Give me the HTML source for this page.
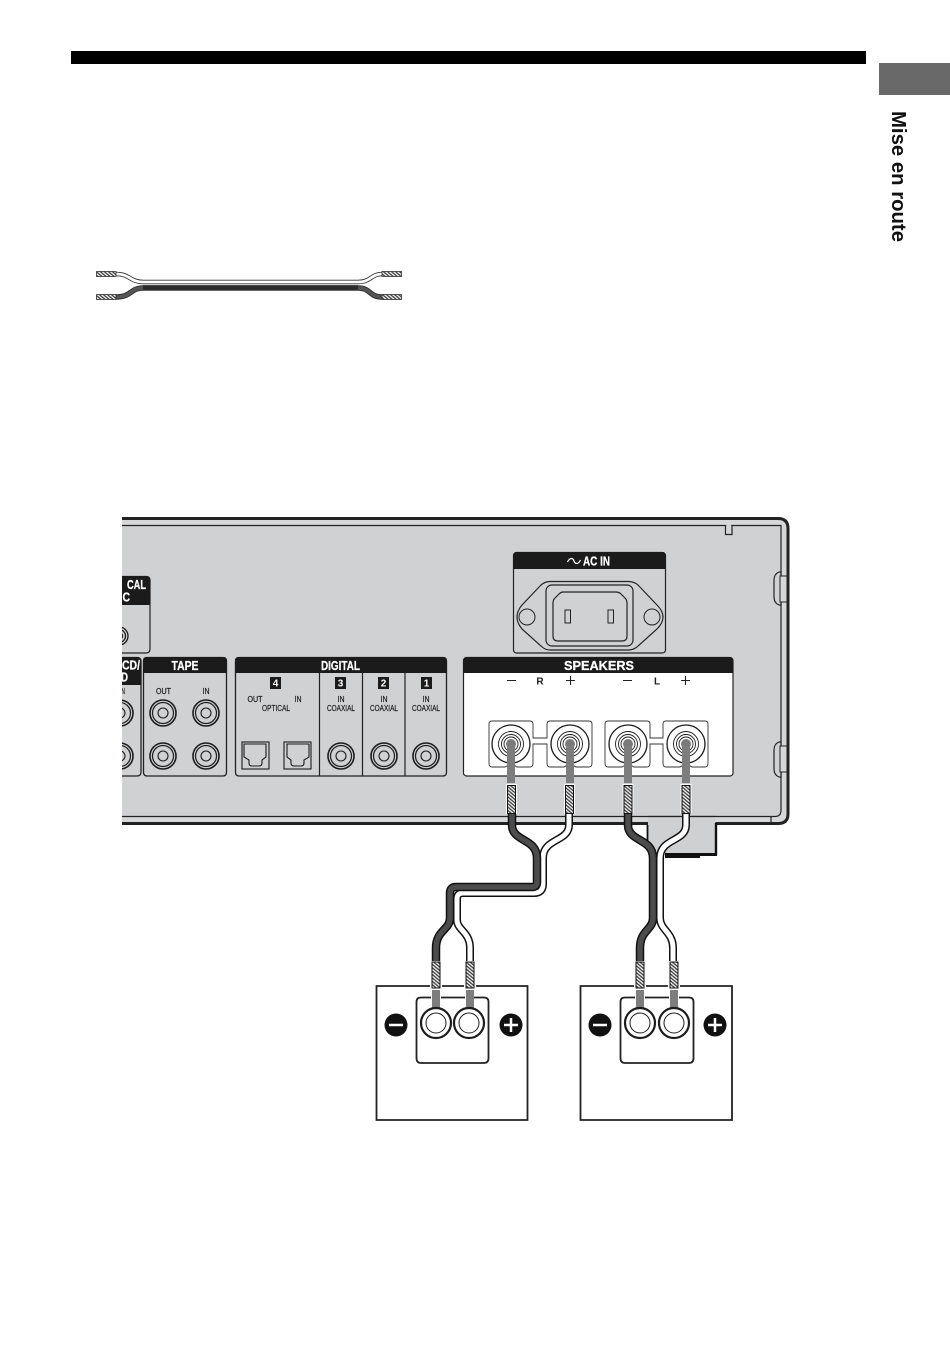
<!DOCTYPE html>
<html><head><meta charset="utf-8"><style>
html,body{margin:0;padding:0;background:#fff}
svg{display:block}
text{font-family:"Liberation Sans",sans-serif}
.h{font-weight:bold;font-size:12.5px;fill:#fff;stroke:#fff;stroke-width:.25}
.s{font-size:8.5px;fill:#1a1a1a;stroke:#1a1a1a;stroke-width:.2}
</style></head><body>
<svg width="950" height="1346" viewBox="0 0 950 1346" xmlns="http://www.w3.org/2000/svg">
<defs>
<pattern id="hatch" width="2.6" height="2.6" patternUnits="userSpaceOnUse" patternTransform="rotate(40)">
<rect width="2.6" height="2.6" fill="#eee"/><rect width="2.6" height="1.3" fill="#444"/>
</pattern>
<g id="jack" fill="none" stroke="#1c1c1c">
<circle r="13" stroke-width="1.6"/><circle r="10.500" stroke-width="1.200"/><circle r="5" stroke-width="1.100"/>
</g>
<g id="term" fill="none" stroke="#1c1c1c">
<circle r="19" stroke-width="1.300" fill="#fff"/><circle r="12.500" stroke-width=".9"/><circle r="9.500" stroke-width=".9"/><circle r="7" stroke-width=".9"/>
<circle r="5" fill="#7a7a7a" stroke="none"/>
</g>
<g id="spk" fill="none" stroke="#1c1c1c">
<circle r="15" fill="#fff" stroke-width="2.200"/><circle r="10" stroke-width="1"/>
</g>
<clipPath id="ch"><rect x="122" y="500" width="700" height="340"/></clipPath>
</defs>

<rect width="950" height="1346" fill="#fff"/>
<rect x="71" y="51" width="795" height="13" fill="#000"/>
<rect x="879" y="63" width="71" height="32" fill="#696969"/>
<text x="0" y="0" transform="translate(892,111) rotate(90)" font-size="20" font-weight="bold" fill="#111" textLength="131" lengthAdjust="spacingAndGlyphs">Mise en route</text>

<!-- small cable -->
<g fill="none">
<path d="M116 274C130 274 130 282 143 282H358C371 282 371 274 382 274" stroke="#333" stroke-width="4.500"/>
<path d="M116 274C130 274 130 282 143 282H358C371 282 371 274 382 274" stroke="#fff" stroke-width="2.800"/>
<path d="M116 297C132 297 130 288 143 288H358C371 288 369 297 382 297" stroke="#333" stroke-width="5.500"/>
<path d="M116 297C132 297 130 288 143 288H358C371 288 369 297 382 297" stroke="#555" stroke-width="3.500"/>
<path d="M143 287.500H358" stroke="#2a2a2a" stroke-width="4.500"/>
</g>
<g fill="url(#hatch)" stroke="#333" stroke-width=".8">
<rect x="96.500" y="271.500" width="19.500" height="5"/><rect x="96.500" y="294.500" width="19.500" height="5"/>
<rect x="382" y="271.500" width="19.500" height="5"/><rect x="382" y="294.500" width="19.500" height="5"/>
</g>

<!-- chassis -->
<g clip-path="url(#ch)">
<path d="M100 518.500H778Q788 518.500 788 528.500V814Q788 823.500 778 823.500H100Z" fill="#d6d7d8" stroke="#222" stroke-width="3"/>
<path d="M100 525.500H781V810Q781 816.500 775 816.500H100Z" fill="#d0d1d2" stroke="#222" stroke-width="1.200"/>
<path d="M771 816.500V823" stroke="#222" stroke-width="1.200"/>
<path d="M725.500 525.500V534.500H732V525.500" fill="#d6d7d8" stroke="#222" stroke-width="1.200"/>
<rect x="726.500" y="524" width="4.500" height="2" fill="#d6d7d8"/>
<!-- side notches -->
<path d="M781 572H779Q774 574 774 580V597Q774 603 779 605H781Z" fill="#d0d1d2" stroke="#222" stroke-width="1.200"/>
<rect x="780" y="576" width="7" height="26" fill="#d6d7d8" stroke="#222" stroke-width="1"/>
<path d="M781 742H779Q774 744 774 750V769Q774 775 779 777H781Z" fill="#d0d1d2" stroke="#222" stroke-width="1.200"/>
<rect x="780" y="746" width="7" height="26" fill="#d6d7d8" stroke="#222" stroke-width="1"/>
<path d="M788 528V814" stroke="#222" stroke-width="3" fill="none"/>

<!-- CAL box -->
<path d="M90 576.500H146Q150 576.500 150 580.500V649Q150 653 146 653H90Z" fill="#d0d1d2" stroke="#222" stroke-width="1.200"/>
<path d="M90 576H146Q150.500 576 150.500 580.500V605H90Z" fill="#1b1b1b"/>
<text class="h" x="127" y="589" textLength="19" lengthAdjust="spacingAndGlyphs">CAL</text>
<text class="h" x="122.500" y="601.500" textLength="7.500" lengthAdjust="spacingAndGlyphs">C</text>
<g fill="none" stroke="#1c1c1c" stroke-width="1.300"><circle cx="119" cy="636" r="9"/><circle cx="119" cy="636" r="6.500"/><circle cx="119" cy="636" r="3.500"/></g>

<!-- CD box -->
<path d="M90 657.500H137Q141 657.500 141 661.500V772Q141 776 137 776H90Z" fill="#d0d1d2" stroke="#222" stroke-width="1.300"/>
<path d="M90 657H137Q141.500 657 141.500 661.500V685H90Z" fill="#1b1b1b"/>
<text class="h" x="122" y="669.500" textLength="18" lengthAdjust="spacingAndGlyphs">CD/</text>
<text class="h" x="121" y="681.500" textLength="7" lengthAdjust="spacingAndGlyphs">D</text>
<text class="s" x="120" y="694" textLength="5" lengthAdjust="spacingAndGlyphs">IN</text>
<use href="#jack" x="120" y="713"/><use href="#jack" x="120" y="756"/>

<!-- TAPE -->
<path d="M143.500 661Q143.500 657.500 147 657.500H223Q226.500 657.500 226.500 661V772Q226.500 776 223 776H147Q143.500 776 143.500 772Z" fill="#d0d1d2" stroke="#222" stroke-width="1.300"/>
<path d="M143 661Q143 657 147 657H223Q227 657 227 661V673H143Z" fill="#1b1b1b"/>
<text class="h" x="185" y="670" text-anchor="middle" textLength="27" lengthAdjust="spacingAndGlyphs">TAPE</text>
<text class="s" x="163.500" y="694" text-anchor="middle" textLength="15" lengthAdjust="spacingAndGlyphs">OUT</text>
<text class="s" x="206" y="694" text-anchor="middle" textLength="7" lengthAdjust="spacingAndGlyphs">IN</text>
<use href="#jack" x="163" y="713"/><use href="#jack" x="206" y="713"/>
<use href="#jack" x="163" y="756"/><use href="#jack" x="206" y="756"/>

<!-- DIGITAL -->
<path d="M235.500 661Q235.500 657.500 239 657.500H443Q446.500 657.500 446.500 661V772Q446.500 776 443 776H239Q235.500 776 235.500 772Z" fill="#d0d1d2" stroke="#222" stroke-width="1.300"/>
<path d="M235 661Q235 657 239 657H443Q447 657 447 661V673H235Z" fill="#1b1b1b"/>
<path d="M319.500 673V776M362.500 673V776M405 673V776" stroke="#222" stroke-width="1.200"/>
<text class="h" x="340.500" y="670" text-anchor="middle" textLength="39" lengthAdjust="spacingAndGlyphs">DIGITAL</text>
<g fill="#1b1b1b"><rect x="270" y="677" width="11" height="12"/><rect x="335" y="677" width="11" height="12"/><rect x="378" y="677" width="11" height="12"/><rect x="421" y="677" width="11" height="12"/></g>
<g font-size="10" font-weight="bold" fill="#fff" text-anchor="middle"><text x="275.500" y="686.500">4</text><text x="340.500" y="686.500">3</text><text x="383.500" y="686.500">2</text><text x="426.500" y="686.500">1</text></g>
<text class="s" x="255" y="702" text-anchor="middle" textLength="15" lengthAdjust="spacingAndGlyphs">OUT</text>
<text class="s" x="298" y="702" text-anchor="middle" textLength="7" lengthAdjust="spacingAndGlyphs">IN</text>
<text class="s" x="276" y="711" text-anchor="middle" textLength="28" lengthAdjust="spacingAndGlyphs">OPTICAL</text>
<g text-anchor="middle">
<text class="s" x="341" y="702" textLength="7" lengthAdjust="spacingAndGlyphs">IN</text><text class="s" x="341" y="711" textLength="28" lengthAdjust="spacingAndGlyphs">COAXIAL</text>
<text class="s" x="384" y="702" textLength="7" lengthAdjust="spacingAndGlyphs">IN</text><text class="s" x="384" y="711" textLength="28" lengthAdjust="spacingAndGlyphs">COAXIAL</text>
<text class="s" x="426" y="702" textLength="7" lengthAdjust="spacingAndGlyphs">IN</text><text class="s" x="426" y="711" textLength="28" lengthAdjust="spacingAndGlyphs">COAXIAL</text>
</g>
<g fill="none" stroke="#1c1c1c" stroke-width="1.100">
<rect x="242" y="742" width="27" height="27"/>
<path d="M244 744H266V757L262 760V763Q262 766 259 766H252Q249 766 249 763V760L244 757Z"/>
<rect x="284" y="742" width="27" height="27"/>
<path d="M287 744H309V757L304 760V763Q304 766 301 766H294Q291 766 291 763V760L287 757Z"/>
</g>
<use href="#jack" x="341" y="756"/><use href="#jack" x="384" y="756"/><use href="#jack" x="426" y="756"/>

<!-- AC IN -->
<rect x="513.500" y="552.500" width="152" height="100.500" rx="3" fill="#d0d1d2" stroke="#222" stroke-width="1.200"/>
<path d="M513 556Q513 552 517 552H662Q666 552 666 556V569H513Z" fill="#1b1b1b"/>
<text class="h" x="583" y="565.500" textLength="27" lengthAdjust="spacingAndGlyphs">AC IN</text>
<path d="M567.500 562C570 557 573 558 574 561C575 564 578 565 580.500 560" fill="none" stroke="#fff" stroke-width="1.200"/>
<path d="M550 581.500H628Q634 581.500 638 585L657 605Q663 611 663 617Q663 623 657 629L638 646Q634 650 628 650H550Q545 650 541 646L522 629Q517 623 517 617Q517 611 522 605L541 585Q545 581.500 550 581.500Z" fill="#d0d1d2" stroke="#222" stroke-width="1.200"/>
<rect x="546" y="585" width="87" height="61" rx="6" fill="#d0d1d2" stroke="#222" stroke-width="1.200"/>
<path d="M563 592H616Q619 592 621 594L625 598Q627 600 627 603V636Q627 641 622 641H558Q553 641 553 636V603Q553 600 555 598L559 594Q561 592 563 592Z" fill="#d0d1d2" stroke="#222" stroke-width="1.200"/>
<rect x="565" y="610" width="5.500" height="13" fill="none" stroke="#222"/>
<rect x="608" y="610" width="5.500" height="13" fill="none" stroke="#222"/>
<circle cx="527" cy="617" r="8" fill="#d0d1d2" stroke="#222"/>
<circle cx="652" cy="617" r="8" fill="#d0d1d2" stroke="#222"/>

<!-- SPEAKERS -->
<rect x="463.500" y="657.500" width="269.500" height="118.500" rx="3" fill="#fff" stroke="#222" stroke-width="1.200"/>
<path d="M463 661Q463 657 467 657H729Q733 657 733 661V673H463Z" fill="#1b1b1b"/>
<text x="564" y="670" font-size="13" font-weight="bold" fill="#fff" stroke="#fff" stroke-width=".25" textLength="70" lengthAdjust="spacingAndGlyphs">SPEAKERS</text>
<path d="M507 680.500H516M566 680.500H575M570.500 676V685M623 680.500H632M681 680.500H690M685.500 676V685" stroke="#222" stroke-width="1.100" fill="none"/>
<text x="540" y="684.500" font-size="10" font-weight="bold" text-anchor="middle" fill="#222">R</text>
<text x="657" y="684.500" font-size="10" font-weight="bold" text-anchor="middle" fill="#222">L</text>
<g fill="none" stroke="#333" stroke-width=".9">
<path d="M489 724Q489 721 492 721H530Q533 721 533 724V738H547V724Q547 721 550 721H589Q592 721 592 724V763Q592 767 589 767H576Q570 763 564 767H550Q547 767 547 763V744H533V763Q533 767 530 767H517Q511 763 505 767H492Q489 767 489 763Z"/>
<path d="M605 724Q605 721 608 721H647Q650 721 650 724V738H663V724Q663 721 666 721H705Q708 721 708 724V763Q708 767 705 767H692Q686 763 680 767H666Q663 767 663 763V744H650V763Q650 767 647 767H634Q628 763 622 767H608Q605 767 605 763Z"/>
</g>
<use href="#term" x="511" y="744"/><use href="#term" x="570" y="744"/><use href="#term" x="628" y="744"/><use href="#term" x="686" y="744"/>
</g>

<!-- tab -->
<rect x="648" y="816" width="67.500" height="37" fill="#cfd0d1"/>
<path d="M648 816.500H715.500" stroke="#222" stroke-width="1.200"/>
<path d="M647.500 825V843" stroke="#111" stroke-width="1.800"/>
<path d="M716 823V855" stroke="#111" stroke-width="2.400"/>
<path d="M665 853H717V856H700V858H665Z" fill="#111"/>

<!-- gray stubs -->
<g fill="#7d7d7d">
<rect x="507" y="746" width="8" height="37"/><rect x="566" y="746" width="8" height="37"/>
<rect x="624" y="746" width="8" height="37"/><rect x="682" y="746" width="8" height="37"/>
<rect x="432" y="990" width="8" height="19"/><rect x="466" y="990" width="8" height="19"/>
<rect x="636" y="990" width="8" height="19"/><rect x="670" y="990" width="8" height="19"/>
</g>

<!-- wires -->
<g fill="none" stroke-linejoin="round">
<path d="M569 813V825C569 842 543 838 543 858V884Q543 893 534 893H463Q457 893 457 899V920C457 930 470 932 470 948V962" stroke="#111" stroke-width="8"/>
<path d="M569 813V825C569 842 543 838 543 858V884Q543 893 534 893H463Q457 893 457 899V920C457 930 470 932 470 948V962" stroke="#fff" stroke-width="5"/>
<path d="M512 813V825C512 842 537 838 537 858V882Q537 887 532 887H456Q450 887 450 893V918C450 930 436 930 436 948V962" stroke="#111" stroke-width="8.500"/>
<path d="M512 813V825C512 842 537 838 537 858V882Q537 887 532 887H456Q450 887 450 893V918C450 930 436 930 436 948V962" stroke="#4c4c4c" stroke-width="5.500"/>
<path d="M686 813V825C686 842 660 838 660 858V918C660 930 673 932 673 948V962" stroke="#111" stroke-width="8"/>
<path d="M686 813V825C686 842 660 838 660 858V918C660 930 673 932 673 948V962" stroke="#fff" stroke-width="5"/>
<path d="M628 813V825C628 842 653 838 653 858V918C653 930 640 930 640 948V962" stroke="#111" stroke-width="8.500"/>
<path d="M628 813V825C628 842 653 838 653 858V918C653 930 640 930 640 948V962" stroke="#4c4c4c" stroke-width="5.500"/>
</g>
<!-- stripped ends -->
<g fill="#fff">
<rect x="506" y="784" width="11" height="30"/><rect x="564" y="784" width="11" height="30"/>
<rect x="622.500" y="784" width="11" height="30"/><rect x="680.500" y="784" width="11" height="30"/>
<rect x="430.500" y="961" width="11" height="28"/><rect x="464.500" y="961" width="11" height="28"/>
<rect x="634.500" y="961" width="11" height="28"/><rect x="668.500" y="961" width="11" height="28"/>
</g>
<g fill="url(#hatch)" stroke="#111" stroke-width="1">
<rect x="507.500" y="785.500" width="8" height="28"/><rect x="565.500" y="785.500" width="8" height="28"/>
<rect x="624" y="785.500" width="8" height="28"/><rect x="682" y="785.500" width="8" height="28"/>
<rect x="432" y="962" width="8" height="26"/><rect x="466" y="962" width="8" height="26"/>
<rect x="636" y="962" width="8" height="26"/><rect x="670" y="962" width="8" height="26"/>
</g>

<!-- speakers -->
<g fill="none" stroke="#222" stroke-width="1.800">
<path d="M430 986H376.500V1120H527.500V986H476M442 986H464"/>
<path d="M634 986H580.500V1120H732V986H680M646 986H668"/>
<path d="M431 997.500H421Q416.500 997.500 416.500 1002V1058Q416.500 1063 421 1063H484Q488.500 1063 488.500 1058V1002Q488.500 997.500 484 997.500H474M441 997.500H465"/>
<path d="M635 997.500H625Q620.500 997.500 620.500 1002V1058Q620.500 1063 625 1063H689Q693.500 1063 693.500 1058V1002Q693.500 997.500 689 997.500H679M645 997.500H669"/>
</g>
<use href="#spk" x="436" y="1023"/><use href="#spk" x="469" y="1023"/><use href="#spk" x="640" y="1023"/><use href="#spk" x="674" y="1023"/>
<g fill="#111">
<circle cx="396" cy="1025" r="11.500"/><circle cx="511" cy="1025" r="11.500"/><circle cx="600" cy="1025" r="11.500"/><circle cx="715" cy="1025" r="11.500"/>
</g>
<path d="M389 1025H403M504 1025H518M511 1018V1032M593 1025H607M708 1025H722M715 1018V1032" stroke="#fff" stroke-width="2.500" fill="none"/>
</svg>
</body></html>
